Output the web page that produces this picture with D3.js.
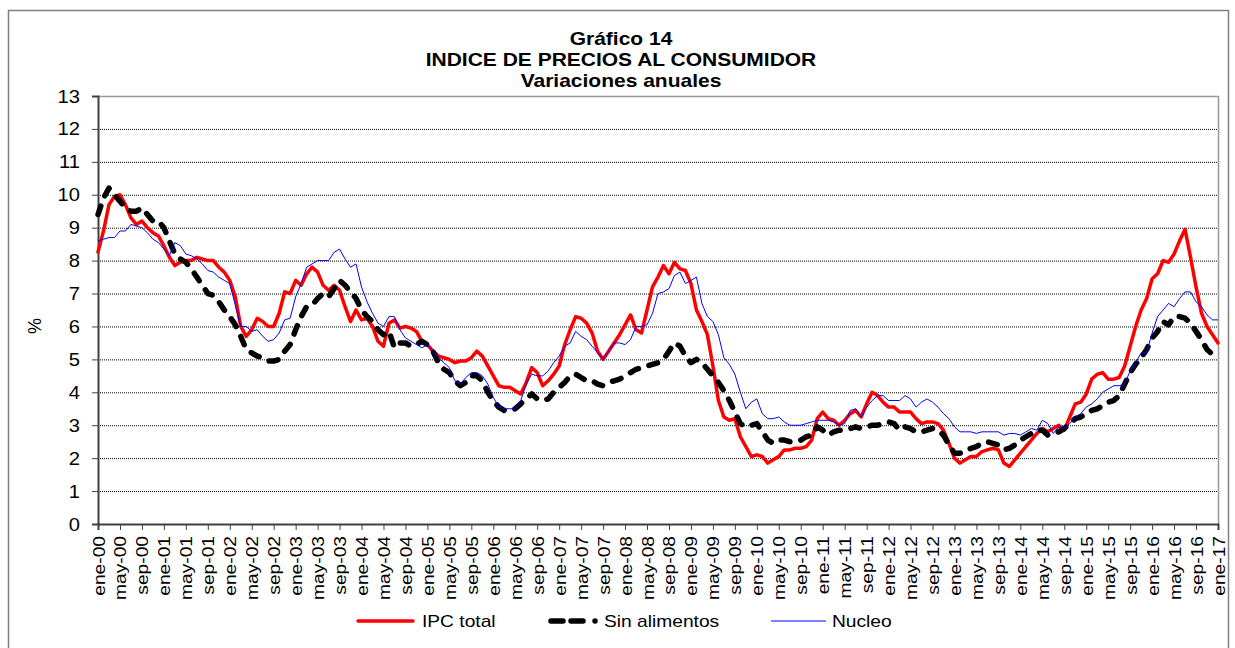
<!DOCTYPE html>
<html>
<head>
<meta charset="utf-8">
<script src="https://cdn.jsdelivr.net/npm/d3@7"></script>
<style>
  body { margin: 0; background: #fff; }
  svg { display: block; font-family: "Liberation Sans", Arial, sans-serif; }
</style>
</head>
<body>
<svg id="chart" width="1235" height="648"></svg>
<script>
// Monthly data, ene-00 .. ene-17 (annual % change)
const monthNames = ["ene", "feb", "mar", "abr", "may", "jun", "jul", "ago", "sep", "oct", "nov", "dic"];
const nMonths = 205;
const categories = d3.range(nMonths).map(i => `${monthNames[i % 12]}-${String(Math.floor(i / 12)).padStart(2, "0")}`);

const ipcTotal = [
  8.26, 8.9, 9.7, 9.95, 10.0, 9.7, 9.3, 9.1, 9.2, 9.0, 8.85, 8.75,
  8.45, 8.1, 7.85, 7.95, 8.0, 8.0, 8.1, 8.05, 8.0, 8.0, 7.8, 7.65,
  7.4, 6.9, 6.0, 5.7, 5.9, 6.25, 6.15, 6.0, 6.0, 6.4, 7.05, 7.0,
  7.4, 7.25, 7.6, 7.8, 7.65, 7.25, 7.1, 7.25, 7.1, 6.6, 6.15, 6.5,
  6.2, 6.25, 6.0, 5.55, 5.4, 6.1, 6.2, 5.95, 6.0, 5.95, 5.85, 5.55,
  5.45, 5.25, 5.1, 5.05, 5.0, 4.9, 4.95, 4.95, 5.05, 5.25, 5.1, 4.8,
  4.5, 4.2, 4.15, 4.15, 4.05, 3.95, 4.3, 4.75, 4.6, 4.2, 4.35, 4.55,
  4.8, 5.45, 5.9, 6.3, 6.25, 6.1, 5.8, 5.25, 5.0, 5.25, 5.5, 5.75,
  6.05, 6.35, 5.9, 5.8, 6.5, 7.2, 7.5, 7.85, 7.6, 7.95, 7.75, 7.7,
  7.3, 6.5, 6.15, 5.75, 4.8, 3.75, 3.25, 3.15, 3.2, 2.65, 2.35, 2.05,
  2.1, 2.05, 1.85, 1.95, 2.05, 2.25, 2.25, 2.3, 2.3, 2.35, 2.55, 3.2,
  3.4, 3.2, 3.15, 3.0, 3.15, 3.35, 3.45, 3.25, 3.65, 4.0, 3.9, 3.7,
  3.55, 3.55, 3.4, 3.4, 3.4, 3.2, 3.05, 3.1, 3.1, 3.05, 2.85, 2.45,
  2.0, 1.85, 1.95, 2.05, 2.05, 2.2, 2.25, 2.3, 2.25, 1.85, 1.75, 1.95,
  2.15, 2.35, 2.55, 2.75, 2.9, 2.8, 2.9, 3.0, 2.85, 3.25, 3.65, 3.7,
  3.95, 4.4, 4.55, 4.6, 4.4, 4.4, 4.45, 4.8, 5.4, 6.0, 6.5, 6.85,
  7.45, 7.6, 8.0, 7.95, 8.2, 8.6, 8.95, 8.1, 7.2, 6.4, 6.0, 5.75,
  5.5
];

const sinAlimentos = [
  9.4, 9.9, 10.2, 10.0, 9.8, 9.6, 9.5, 9.5, 9.6, 9.4, 9.2, 9.2,
  9.0, 8.6, 8.2, 8.05, 7.95, 7.75, 7.5, 7.25, 7.0, 6.95, 6.75, 6.5,
  6.3, 6.05, 5.7, 5.3, 5.2, 5.1, 5.05, 4.95, 4.95, 5.0, 5.25, 5.45,
  5.9, 6.3, 6.6, 6.65, 6.85, 7.0, 6.9, 7.15, 7.4, 7.25, 7.05, 6.85,
  6.5, 6.3, 6.15, 5.9, 5.75, 5.85, 5.35, 5.5, 5.5, 5.4, 5.45, 5.55,
  5.45, 5.25, 4.9, 4.7, 4.6, 4.35, 4.2, 4.3, 4.5, 4.5, 4.35, 4.0,
  3.75, 3.55, 3.45, 3.45, 3.5, 3.65, 3.8, 3.95, 3.8, 3.75, 3.8, 4.0,
  4.15, 4.3, 4.5, 4.55, 4.45, 4.35, 4.35, 4.25, 4.2, 4.3, 4.35, 4.4,
  4.5, 4.6, 4.7, 4.75, 4.8, 4.85, 4.9, 5.0, 5.25, 5.5, 5.4, 5.1,
  4.9, 5.0, 4.9, 4.7, 4.5, 4.3, 4.05, 3.75, 3.4, 3.05, 2.95, 3.0,
  3.05, 2.8, 2.55, 2.45, 2.55, 2.55, 2.5, 2.5, 2.55, 2.65, 2.7, 2.95,
  2.85, 2.7, 2.8, 2.85, 2.85, 2.9, 2.95, 2.9, 2.95, 3.0, 3.0, 3.05,
  3.1, 3.05, 2.85, 2.95, 2.9, 2.8, 2.8, 2.85, 2.9, 2.85, 2.7, 2.4,
  2.15, 2.15, 2.2, 2.3, 2.35, 2.45, 2.5, 2.45, 2.4, 2.25, 2.3, 2.4,
  2.55, 2.65, 2.75, 2.85, 2.85, 2.7, 2.75, 2.8, 2.9, 3.05, 3.2, 3.25,
  3.35, 3.45, 3.5, 3.6, 3.7, 3.75, 3.9, 4.25, 4.6, 4.85, 5.05, 5.3,
  5.65, 5.85, 6.15, 6.05, 6.3, 6.3, 6.25, 6.1, 5.85, 5.6, 5.3, 5.15,
  5.3
];

const nucleo = [
  8.6, 8.65, 8.7, 8.7, 8.9, 8.9, 9.1, 9.05, 9.0, 8.85, 8.65, 8.55,
  8.35, 8.15, 8.55, 8.45, 8.2, 8.15, 8.05, 7.9, 7.7, 7.65, 7.5, 7.4,
  7.3, 6.65, 6.0, 6.0, 5.85, 5.9, 5.7, 5.55, 5.6, 5.8, 6.2, 6.25,
  6.9, 7.3, 7.8, 7.9, 8.0, 8.0, 8.0, 8.25, 8.35, 8.05, 7.8, 7.9,
  7.2, 6.75, 6.4, 6.1, 6.0, 6.3, 6.3, 5.9, 5.65, 5.55, 5.45, 5.35,
  5.45, 5.25, 5.05, 4.9, 4.75, 4.35, 4.25, 4.45, 4.6, 4.6, 4.5, 4.25,
  3.85, 3.55, 3.5, 3.5, 3.5, 3.75, 4.25, 4.55, 4.5, 4.5, 4.65, 4.9,
  5.1, 5.4, 5.5, 5.85, 5.7, 5.6, 5.4, 5.2, 5.0, 5.25, 5.5, 5.5,
  5.45, 5.6, 6.0, 6.0, 6.05, 6.4, 7.0, 7.05, 7.15, 7.55, 7.65, 7.3,
  7.4, 7.5, 6.7, 6.3, 6.15, 5.75, 5.05, 4.85, 4.55, 4.0, 3.5, 3.7,
  3.8, 3.35, 3.2, 3.2, 3.25, 3.1, 3.0, 3.0, 3.0, 3.05, 3.1, 3.15,
  3.15, 3.15, 3.1, 3.0, 3.05, 3.45, 3.5, 3.25, 3.55, 3.75, 3.9, 3.9,
  3.75, 3.75, 3.75, 3.9, 3.8, 3.55, 3.7, 3.8, 3.7, 3.55, 3.35, 3.2,
  2.95, 2.8, 2.8, 2.8, 2.75, 2.8, 2.8, 2.8, 2.8, 2.7, 2.75, 2.75,
  2.7, 2.8, 2.9, 2.85, 3.15, 3.05, 2.75, 2.95, 2.9, 3.05, 3.25, 3.35,
  3.55, 3.65, 3.8, 4.0, 4.1, 4.2, 4.2, 4.25, 4.65, 4.9, 5.2, 5.2,
  5.8, 6.3, 6.5, 6.7, 6.6, 6.85, 7.05, 7.05, 6.75, 6.6, 6.35, 6.2,
  6.2
];

const yTicks = d3.range(0, 14);
const titleLines = ["Gráfico 14", "INDICE DE PRECIOS AL CONSUMIDOR", "Variaciones anuales"];

const series = [
  { name: "IPC total", values: ipcTotal, color: "#ff0000", width: 3.5, dash: null, cap: "round" },
  { name: "Sin alimentos", values: sinAlimentos, color: "#000000", width: 5.5, dash: "9,11", cap: "round" },
  { name: "Nucleo", values: nucleo, color: "#0000ff", width: 1, dash: null, cap: "butt" }
];

const svg = d3.select("#chart");
const plot = { left: 98, right: 1218, top: 96, bottom: 524 };

// outer frame
svg.append("rect")
  .attr("x", 8.5).attr("y", 10.5)
  .attr("width", 1220).attr("height", 660)
  .attr("fill", "none").attr("stroke", "#7f7f7f").attr("stroke-width", 1.5);

const x = d3.scaleLinear().domain([0, nMonths - 1]).range([plot.left, plot.right]);
const y = d3.scaleLinear().domain([0, 13]).range([plot.bottom, plot.top]);

// title
svg.append("g").selectAll("text")
  .data(titleLines)
  .join("text")
  .attr("transform", (d, i) => `translate(621,${45 + i * 21}) scale(1.2,1)`)
  .attr("text-anchor", "middle")
  .attr("font-weight", "bold")
  .attr("font-size", 17.5)
  .text(d => d);

// gridlines
svg.append("g").selectAll("line")
  .data(yTicks.filter(v => v > 0 && v < 13))
  .join("line")
  .attr("x1", plot.left).attr("x2", plot.right)
  .attr("y1", d => y(d) + 0.5).attr("y2", d => y(d) + 0.5)
  .attr("stroke", "#000").attr("stroke-width", 1)
  .attr("stroke-dasharray", "1,1");

// plot border (top / right)
svg.append("path")
  .attr("d", `M${plot.left},${plot.top + 0.5}H${plot.right + 0.5}V${plot.bottom}`)
  .attr("fill", "none").attr("stroke", "#999").attr("stroke-width", 1.5);

// y axis
const yAxis = svg.append("g")
  .attr("transform", `translate(${plot.left},0)`)
  .call(d3.axisLeft(y).tickValues(yTicks).tickSize(6).tickFormat(d3.format("d")));
yAxis.select(".domain").attr("stroke", "#404040").attr("stroke-width", 2);
yAxis.selectAll(".tick line").attr("stroke", "#404040");
yAxis.selectAll(".tick text")
  .attr("font-size", 18)
  .attr("font-family", "Liberation Sans, Arial, sans-serif")
  .attr("fill", "#000")
  .attr("x", null).attr("dy", null)
  .attr("transform", "translate(-18,6) scale(1.12,1)");

// x axis
const xTickIdx = d3.range(0, nMonths, 4);
const xAxis = svg.append("g")
  .attr("transform", `translate(0,${plot.bottom})`)
  .call(d3.axisBottom(x).tickValues(xTickIdx).tickSize(6).tickFormat(i => categories[i]));
xAxis.select(".domain").attr("stroke", "#404040").attr("stroke-width", 2);
xAxis.selectAll(".tick line").attr("stroke", "#404040");
xAxis.selectAll(".tick text")
  .attr("font-size", 16)
  .attr("font-family", "Liberation Sans, Arial, sans-serif")
  .attr("fill", "#000")
  .attr("text-anchor", "end")
  .attr("y", null).attr("dy", null)
  .attr("transform", "translate(6,12) rotate(-90) scale(1.2,1)");

// y axis title
svg.append("text")
  .attr("transform", "translate(41,326) rotate(-90)")
  .attr("text-anchor", "middle")
  .attr("font-size", 18)
  .text("%");

// series lines
const line = d3.line().x((d, i) => x(i)).y(d => y(d));
svg.append("g").selectAll("path")
  .data(series)
  .join("path")
  .attr("d", d => line(d.values))
  .attr("fill", "none")
  .attr("stroke", d => d.color)
  .attr("stroke-width", d => d.width)
  .attr("stroke-dasharray", d => d.dash)
  .attr("stroke-linecap", d => d.cap)
  .attr("stroke-linejoin", "round");

// legend
const legendItems = [
  { s: series[0], x1: 358, x2: 413, tx: 422 },
  { s: series[1], x1: 551, x2: 597, tx: 604 },
  { s: series[2], x1: 771, x2: 826, tx: 832 }
];
const legend = svg.append("g");
legend.selectAll("line")
  .data(legendItems)
  .join("line")
  .attr("x1", d => d.x1).attr("x2", d => d.x2)
  .attr("y1", 621).attr("y2", 621)
  .attr("stroke", d => d.s.color)
  .attr("stroke-width", d => d.s.width)
  .attr("stroke-dasharray", d => d.s.dash ? "12,8,12,12,0,100" : null)
  .attr("stroke-linecap", d => d.s.cap);
legend.selectAll("text")
  .data(legendItems)
  .join("text")
  .attr("transform", d => `translate(${d.tx},627) scale(1.2,1)`)
  .attr("font-size", 16)
  .text(d => d.s.name);
</script>
</body>
</html>
